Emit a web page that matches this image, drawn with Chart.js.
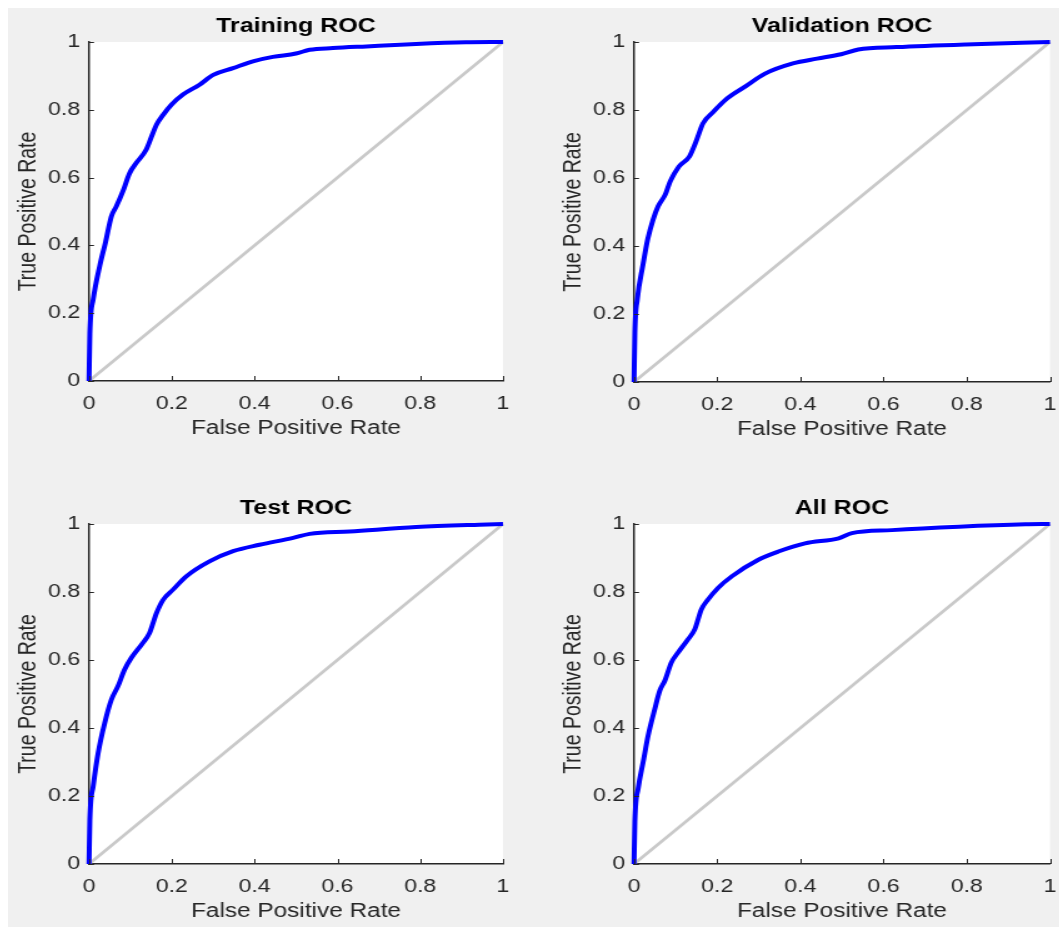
<!DOCTYPE html>
<html>
<head>
<meta charset="utf-8">
<script src="https://cdn.jsdelivr.net/npm/chart.js@4/dist/chart.umd.min.js"></script>
<style>
  html, body { margin: 0; padding: 0; background: #ffffff; overflow: hidden; }
  #panel { position: absolute; left: 8px; top: 8px; width: 1051px; height: 919px; background: #f0f0f0; }
  canvas { position: absolute; transform-origin: 0 0; }
</style>
</head>
<body>
<div id="panel"></div>
<canvas id="trainChart"></canvas>
<canvas id="valChart"></canvas>
<canvas id="testChart"></canvas>
<canvas id="allChart"></canvas>
<script>
// ROC curves (false positive rate, true positive rate)
const TRAIN_FPR = [0, 0.002, 0.01, 0.026, 0.04, 0.054, 0.066, 0.082, 0.098, 0.114, 0.138, 0.151, 0.163, 0.179, 0.199, 0.227, 0.267, 0.3, 0.348, 0.396, 0.444, 0.5, 0.533, 0.589, 0.67, 0.79, 0.91, 1];
const TRAIN_TPR = [0, 0.14, 0.24, 0.34, 0.41, 0.485, 0.515, 0.56, 0.613, 0.643, 0.682, 0.721, 0.756, 0.785, 0.815, 0.845, 0.874, 0.903, 0.923, 0.943, 0.956, 0.966, 0.977, 0.982, 0.987, 0.994, 0.999, 1];

const VAL_FPR = [0, 0.002, 0.008, 0.021, 0.033, 0.046, 0.058, 0.075, 0.087, 0.108, 0.133, 0.149, 0.166, 0.191, 0.224, 0.266, 0.315, 0.382, 0.44, 0.498, 0.539, 0.631, 0.797, 1];
const VAL_TPR = [0, 0.146, 0.244, 0.341, 0.42, 0.478, 0.517, 0.551, 0.59, 0.634, 0.663, 0.707, 0.761, 0.795, 0.834, 0.868, 0.907, 0.937, 0.951, 0.964, 0.978, 0.985, 0.993, 1];

const TEST_FPR = [0, 0.002, 0.01, 0.022, 0.038, 0.054, 0.07, 0.086, 0.102, 0.13, 0.146, 0.163, 0.179, 0.203, 0.235, 0.291, 0.348, 0.412, 0.493, 0.533, 0.63, 0.79, 0.943, 1];
const TEST_TPR = [0, 0.13, 0.228, 0.326, 0.415, 0.483, 0.523, 0.572, 0.606, 0.65, 0.679, 0.738, 0.777, 0.807, 0.846, 0.89, 0.92, 0.939, 0.959, 0.971, 0.978, 0.991, 0.998, 1];

const ALL_FPR = [0, 0.002, 0.01, 0.022, 0.034, 0.05, 0.062, 0.074, 0.09, 0.106, 0.13, 0.146, 0.162, 0.178, 0.202, 0.235, 0.299, 0.347, 0.411, 0.492, 0.524, 0.62, 0.781, 0.941, 1];
const ALL_TPR = [0, 0.125, 0.222, 0.3, 0.378, 0.456, 0.51, 0.539, 0.593, 0.622, 0.661, 0.69, 0.749, 0.778, 0.812, 0.846, 0.895, 0.919, 0.943, 0.958, 0.973, 0.982, 0.992, 0.999, 1];

// chance line and tick values
const DIAG_X = [0, 1];
const DIAG_Y = [0, 1];
const TICK_VALUES = [0, 0.2, 0.4, 0.6, 0.8, 1];

const TITLES = ["Training ROC", "Validation ROC", "Test ROC", "All ROC"];
const X_LABEL = "False Positive Rate";
const Y_LABEL = "True Positive Rate";

// the original figure is stretched sideways, so each canvas is too
const STRETCH = 1.25;
const LEFT_SCREEN = 81;   // screen px left of the y axis
const RIGHT_SCREEN = 14;
const TOP_SPACE = 40;
const X_AXIS_H = 62;
const AXIS = "#262626";
const FONT = "'Liberation Sans', Arial, sans-serif";

const toPoints = (xs, ys) => xs.map((x, i) => ({ x: x, y: ys[i] }));

const frame = {
  id: "frame",
  beforeDraw(chart) {
    const { ctx, chartArea: a } = chart;
    ctx.save();
    ctx.fillStyle = "#ffffff";
    ctx.fillRect(a.left, a.top, a.right - a.left, a.bottom - a.top);
    ctx.restore();
  },
  afterDraw(chart) {
    const { ctx, chartArea: a } = chart;
    const xs = chart.scales.x, ys = chart.scales.y;
    ctx.save();
    ctx.strokeStyle = AXIS;
    ctx.lineWidth = 1;
    // inward tick marks
    xs.ticks.forEach(t => {
      const px = Math.round(xs.getPixelForValue(t.value)) + 0.5;
      ctx.beginPath();
      ctx.moveTo(px, a.bottom);
      ctx.lineTo(px, a.bottom - 5);
      ctx.stroke();
    });
    ys.ticks.forEach(t => {
      const py = Math.round(ys.getPixelForValue(t.value)) + 0.5;
      ctx.beginPath();
      ctx.moveTo(a.left, py);
      ctx.lineTo(a.left + 4, py);
      ctx.stroke();
    });
    // title
    ctx.fillStyle = "#000000";
    ctx.font = "bold 20px " + FONT;
    ctx.textAlign = "center";
    ctx.textBaseline = "middle";
    ctx.fillText(chart.options.plugins.frame.title, (a.left + a.right) / 2, a.top - 16);
    ctx.restore();
  }
};

function noPad(s) {
  s.paddingLeft = 0;
  s.paddingRight = 0;
  s.paddingTop = 0;
  s.paddingBottom = 0;
}

function makeChart(id, title, fpr, tpr, box) {
  const leftInt = LEFT_SCREEN / STRETCH;
  const areaInt = (box.r - box.l) / STRETCH;
  const widthInt = Math.round(leftInt + areaInt + RIGHT_SCREEN / STRETCH);
  const heightPx = (box.b - box.t) + TOP_SPACE + X_AXIS_H;
  const canvas = document.getElementById(id);
  canvas.width = widthInt;
  canvas.height = heightPx;
  canvas.style.left = (box.l - LEFT_SCREEN) + "px";
  canvas.style.top = (box.t - TOP_SPACE) + "px";
  canvas.style.transform = "scale(" + STRETCH + ", 1)";

  const tickFont = { family: FONT, size: 18.5 };
  const labelFont = { family: FONT, size: 19.5 };

  return new Chart(canvas.getContext("2d"), {
    type: "line",
    data: {
      datasets: [
        {
          data: toPoints(fpr, tpr),
          borderColor: "#0000ff",
          borderWidth: 4,
          pointRadius: 0,
          cubicInterpolationMode: "monotone",
          clip: false
        },
        {
          data: toPoints(DIAG_X, DIAG_Y),
          borderColor: "#c9c9c9",
          borderWidth: 2.6,
          pointRadius: 0,
          clip: false
        }
      ]
    },
    options: {
      responsive: false,
      animation: false,
      events: [],
      layout: { padding: { top: TOP_SPACE, right: widthInt - leftInt - areaInt, left: 0, bottom: 0 } },
      plugins: {
        legend: { display: false },
        tooltip: { enabled: false },
        frame: { title: title }
      },
      scales: {
        x: {
          type: "linear",
          min: 0,
          max: 1,
          grid: { display: false, drawTicks: false },
          border: { display: true, color: AXIS, width: 1.5 },
          ticks: {
            color: AXIS,
            font: tickFont,
            padding: 12,
            maxRotation: 0,
            autoSkip: false,
            callback: v => String(v)
          },
          title: { display: true, text: X_LABEL, color: AXIS, font: labelFont, padding: { top: 0, bottom: 3 } },
          afterBuildTicks: s => { s.ticks = TICK_VALUES.map(v => ({ value: v })); },
          afterFit: s => { s.height = X_AXIS_H; noPad(s); }
        },
        y: {
          type: "linear",
          min: 0,
          max: 1,
          grid: { display: false, drawTicks: false },
          border: { display: true, color: AXIS, width: 1.5 },
          ticks: {
            color: AXIS,
            font: tickFont,
            padding: 7,
            autoSkip: false,
            callback: v => String(v)
          },
          title: { display: true, text: Y_LABEL, color: AXIS, font: labelFont, padding: { top: 5, bottom: 0 } },
          afterBuildTicks: s => { s.ticks = TICK_VALUES.map(v => ({ value: v })); },
          afterFit: s => { s.width = leftInt; noPad(s); }
        }
      }
    },
    plugins: [frame]
  });
}

makeChart("trainChart", TITLES[0], TRAIN_FPR, TRAIN_TPR, { l: 89, t: 42, r: 503, b: 381 });
makeChart("valChart", TITLES[1], VAL_FPR, VAL_TPR, { l: 634, t: 42, r: 1050, b: 382 });
makeChart("testChart", TITLES[2], TEST_FPR, TEST_TPR, { l: 89, t: 524, r: 503, b: 864 });
makeChart("allChart", TITLES[3], ALL_FPR, ALL_TPR, { l: 634, t: 524, r: 1050, b: 864 });
</script>
</body>
</html>
